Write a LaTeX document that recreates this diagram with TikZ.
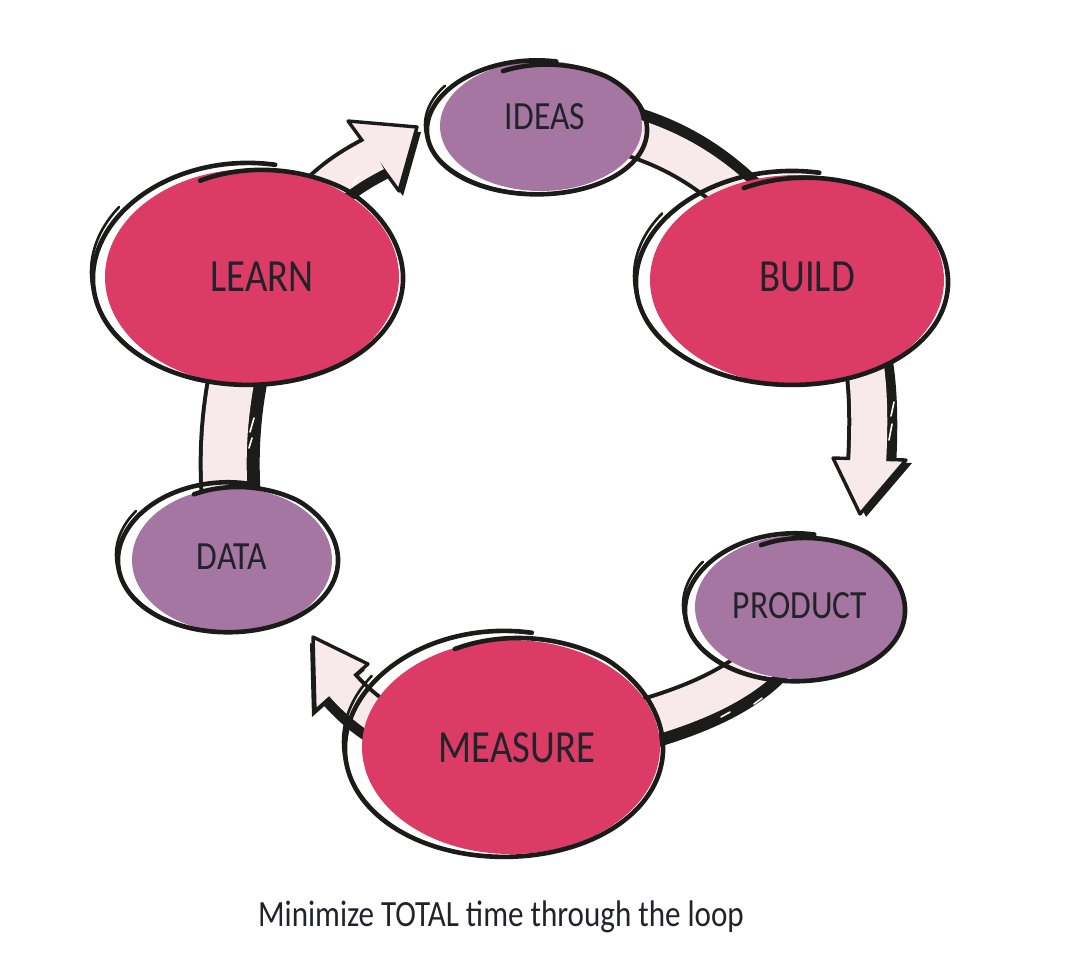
\documentclass[tikz,border=0pt]{standalone}
\usepackage{fontspec}
\newfontfamily\hand{Carlito}[FakeStretch=0.84]
\usetikzlibrary{shapes.geometric,backgrounds}
\definecolor{redf}{HTML}{DC3B66}
\definecolor{purf}{HTML}{A576A1}
\definecolor{pinkf}{HTML}{F8EAEA}
\definecolor{ink}{HTML}{1B1B19}
\definecolor{txt}{HTML}{22222A}
\pgfdeclarelayer{background}
\pgfsetlayers{background,main}
% hand-drawn loop outline: cx cy rx ry
\newcommand\sketchloop[4]{%
  \draw[outl] plot[smooth, domain=250:640, samples=90, variable=\t]
    ({#1+#3*(1-0.1*max(0,1-(\t-250)/60))*(1+0.01*sin(3*\t))*cos(\t)},
     {#2+#4*(1-0.1*max(0,1-(\t-250)/60))*(1+0.01*sin(3*\t))*sin(\t)});
  \draw[outlthin] plot[smooth, domain=95:215, samples=30, variable=\t]
    ({#1-2+#3*1.0*cos(\t)}, {#2-3+#4*1.02*sin(\t)});
}
\begin{document}
\begin{tikzpicture}[x=1pt,y=-1pt,
  outl/.style={draw=ink, line width=4.6pt, line cap=round, line join=round},
  outlthin/.style={draw=ink, line width=2.6pt, line cap=round},
  lbl/.style={text=txt, inner sep=0pt, font=\hand\fontsize{#1}{#1}\selectfont},
  shadowline/.style={draw=ink, line width=#1},
  edgeline/.style={draw=ink, line width=#1},
  bodyline/.style={draw=pinkf, line width=#1},
  hatch/.style={draw=white, line width=1.6pt, line cap=round},
  headshape/.style={fill=pinkf, draw=ink, line width=3.4pt, line join=round}]
\useasboundingbox (0,0) rectangle (1081,954);

% ---------- ellipses ----------
\fill[purf] (541,126) ellipse[x radius=101, y radius=65];
\sketchloop{537}{128}{110}{67}
\node[lbl=40] (ideas) at (545,117) {IDEAS};

\fill[redf] (797,280) ellipse[x radius=147, y radius=105];
\sketchloop{792}{279}{156}{107}
\node[lbl=46] (build) at (807,277) {BUILD};

\fill[redf] (252,277) ellipse[x radius=147, y radius=108];
\sketchloop{248}{275}{155}{111}
\node[lbl=46] (learn) at (262,277) {LEARN};

\fill[purf] (232,560) ellipse[x radius=100, y radius=72];
\sketchloop{228}{558}{110}{75}
\node[lbl=40] (data) at (232,557) {DATA};

\fill[purf] (800,607) ellipse[x radius=105, y radius=72];
\sketchloop{795}{608}{110}{74}
\node[lbl=40] (product) at (800,606) {PRODUCT};

\fill[redf] (511,747) ellipse[x radius=149, y radius=107];
\sketchloop{504}{745}{159}{113}
\node[lbl=46] (measure) at (517,748) {MEASURE};

\node[lbl=37] (caption) at (501,917) {Minimize TOTAL time through the loop};

% ---------- arrows ----------
\begin{pgfonlayer}{background}
% LEARN -> IDEAS
\coordinate (m1) at (376,154); \coordinate (t1) at (417,127);
\coordinate (a1) at (348,121); \coordinate (b1) at (399,191);
\draw[shadowline=42pt, transform canvas={xshift=4pt,yshift=-5pt}] (learn.center) .. controls (300,200) and (335,175) .. (m1);
\fill[ink, transform canvas={xshift=4pt,yshift=-5pt}] (a1) -- (t1) -- (b1) -- cycle;
\draw[edgeline=42pt] (learn.center) .. controls (300,200) and (335,175) .. (m1);
\path[headshape] (a1) -- (t1) -- (b1) -- cycle;
\draw[bodyline=34pt] (learn.center) .. controls (300,200) and (335,175) .. (m1);
\draw[hatch] (352,186) -- (359,176);

% IDEAS -> BUILD
\draw[shadowline=44pt, transform canvas={xshift=2pt,yshift=7pt}] (ideas.center) .. controls (660,135) and (720,160) .. (build.center);
\draw[edgeline=44pt] (ideas.center) .. controls (660,135) and (720,160) .. (build.center);
\draw[bodyline=36pt] (ideas.center) .. controls (660,135) and (720,160) .. (build.center);

% BUILD -> PRODUCT
\coordinate (m3) at (868,464); \coordinate (t3) at (860,514);
\coordinate (a3) at (833,458); \coordinate (b3) at (906,460);
\draw[shadowline=44pt, transform canvas={xshift=6pt,yshift=-3pt}] (build.center) .. controls (870,290) and (872,390) .. (m3);
\fill[ink, transform canvas={xshift=6pt,yshift=-3pt}] (a3) -- (t3) -- (b3) -- cycle;
\draw[edgeline=44pt] (build.center) .. controls (870,290) and (872,390) .. (m3);
\path[headshape] (a3) -- (t3) -- (b3) -- cycle;
\draw[bodyline=36pt] (build.center) .. controls (870,290) and (872,390) .. (m3);
\draw[hatch] (894,402) -- (891,416);
\draw[hatch] (892,424) -- (889,440);

% PRODUCT -> MEASURE
\draw[shadowline=44pt, transform canvas={xshift=3pt,yshift=-8pt}] (product.center) .. controls (770,680) and (700,715) .. (measure.center);
\draw[edgeline=44pt] (product.center) .. controls (770,680) and (700,715) .. (measure.center);
\draw[bodyline=36pt] (product.center) .. controls (770,680) and (700,715) .. (measure.center);
\draw[hatch] (721,717) -- (730,712);
\draw[hatch] (754,704) -- (762,698);

% MEASURE -> DATA
\coordinate (m5) at (339,683); \coordinate (t5) at (313,637);
\coordinate (a5) at (368,664); \coordinate (b5) at (315,711);
\draw[shadowline=40pt, transform canvas={xshift=-3pt,yshift=-6pt}] (measure.center) .. controls (430,760) and (370,720) .. (m5);
\fill[ink, transform canvas={xshift=-3pt,yshift=-6pt}] (a5) -- (t5) -- (b5) -- cycle;
\draw[edgeline=40pt] (measure.center) .. controls (430,760) and (370,720) .. (m5);
\path[headshape] (a5) -- (t5) -- (b5) -- cycle;
\draw[bodyline=32pt] (measure.center) .. controls (430,760) and (370,720) .. (m5);

% DATA -> LEARN
\draw[shadowline=52pt, transform canvas={xshift=9pt}] (data.center) .. controls (222,480) and (215,400) .. (learn.center);
\draw[edgeline=52pt] (data.center) .. controls (222,480) and (215,400) .. (learn.center);
\draw[bodyline=44pt] (data.center) .. controls (222,480) and (215,400) .. (learn.center);
\draw[hatch] (254,418) -- (250,432);
\draw[hatch] (252,438) -- (249,448);
\end{pgfonlayer}
\end{tikzpicture}
\end{document}
